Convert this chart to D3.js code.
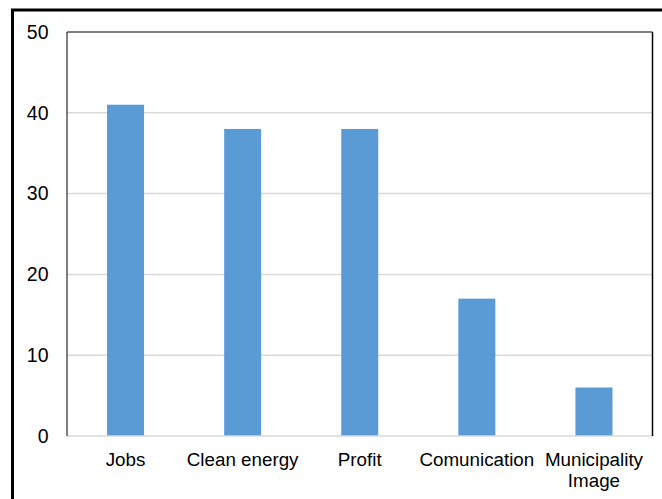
<!DOCTYPE html>
<html><head><meta charset="utf-8">
<script src="https://cdn.jsdelivr.net/npm/d3@7"></script>
<style>body{margin:0;background:#fff;}svg{display:block;}</style>
</head><body>
<svg id="c" width="662" height="499"></svg>
<script>
const categories = ["Jobs", "Clean energy", "Profit", "Comunication", "Municipality Image"];
const values = [41, 38, 38, 17, 6];
const yTicks = [0, 10, 20, 30, 40, 50];

(function () {
const svg = d3.select("#c");
const pLeft = 67, pRight = 652.5, pTop = 32, pBottom = 436;

// outer frame
svg.append("rect").attr("x", 12.5).attr("y", 10).attr("width", 700).attr("height", 600)
  .attr("fill", "none").attr("stroke", "#000").attr("stroke-width", 3);

const x = d3.scaleBand().domain(categories).range([pLeft, pRight]).paddingInner(0.684).paddingOuter(0.342);
const y = d3.scaleLinear().domain([0, 50]).range([pBottom, pTop]);

// gridlines
svg.append("g").selectAll("line").data(yTicks.filter(d => d > 0 && d < 50)).join("line")
  .attr("x1", pLeft).attr("x2", pRight).attr("y1", d => y(d)).attr("y2", d => y(d))
  .attr("stroke", "#d9d9d9").attr("stroke-width", 1.5);

// bars
svg.append("g").selectAll("rect").data(values).join("rect")
  .attr("x", (d, i) => x(categories[i])).attr("width", x.bandwidth())
  .attr("y", d => y(d)).attr("height", d => y(0) - y(d))
  .attr("fill", "#5b9bd5");

// frame
svg.append("line").attr("x1", pLeft).attr("x2", pRight).attr("y1", pBottom).attr("y2", pBottom)
  .attr("stroke", "#d9d9d9").attr("stroke-width", 1.5);
svg.append("line").attr("x1", pLeft).attr("x2", pRight).attr("y1", pTop).attr("y2", pTop)
  .attr("stroke", "#000").attr("stroke-width", 1);
svg.append("line").attr("x1", pLeft).attr("x2", pLeft).attr("y1", pTop).attr("y2", pBottom)
  .attr("stroke", "#000").attr("stroke-width", 1);
svg.append("line").attr("x1", pRight).attr("x2", pRight).attr("y1", pTop).attr("y2", pBottom)
  .attr("stroke", "#000").attr("stroke-width", 1.5);

// y tick labels
svg.append("g").selectAll("text").data(yTicks).join("text")
  .attr("x", 48.5).attr("y", d => y(d)).attr("dy", "0.35em")
  .attr("text-anchor", "end")
  .attr("font-family", "Liberation Sans, Arial, sans-serif").attr("font-size", 19.5)
  .attr("fill", "#000").text(d => d);

// x labels
const xl = svg.append("g").selectAll("text").data(categories).join("text")
  .attr("x", d => x(d) + x.bandwidth() / 2).attr("y", 465.5)
  .attr("text-anchor", "middle")
  .attr("font-family", "Liberation Sans, Arial, sans-serif").attr("font-size", 18.8)
  .attr("fill", "#000");
xl.each(function(d) {
  const t = d3.select(this);
  const parts = d === "Municipality Image" ? ["Municipality", "Image"] : [d];
  parts.forEach((p, i) => t.append("tspan").attr("x", x(d) + x.bandwidth() / 2).attr("dy", i === 0 ? 0 : 21.5).text(p));
});
})();
</script>
</body></html>
